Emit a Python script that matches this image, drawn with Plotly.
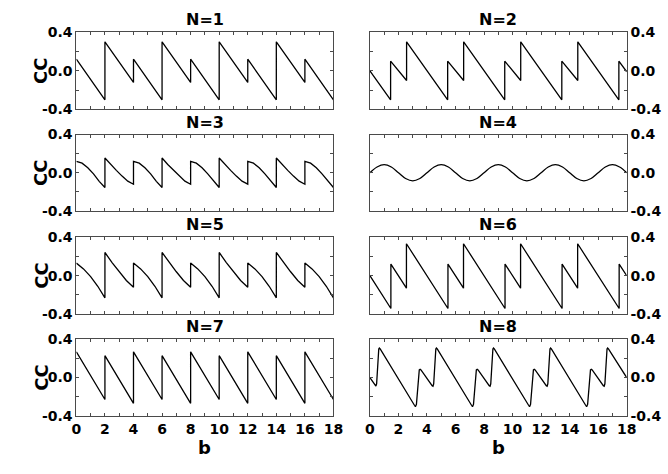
import plotly.graph_objects as go

# ---- data: CC versus b for N = 1 ... 8 ----
b1 = [0, 2, 2, 4, 4, 6, 6, 8, 8, 10, 10, 12, 12, 14, 14, 16, 16, 18]
cc1 = [0.12, -0.30, 0.30, -0.12, 0.12, -0.30, 0.30, -0.12, 0.12, -0.30,
       0.30, -0.12, 0.12, -0.30, 0.30, -0.12, 0.12, -0.30]

b2 = [0, 1.45, 1.45, 2.57, 2.57, 5.45, 5.45, 6.57, 6.57, 9.45, 9.45, 10.57,
      10.57, 13.45, 13.45, 14.57, 14.57, 17.45, 17.45, 18]
cc2 = [0.0, -0.30, 0.10, -0.10, 0.30, -0.30, 0.10, -0.10, 0.30, -0.30, 0.10,
       -0.10, 0.30, -0.30, 0.10, -0.10, 0.30, -0.30, 0.10, -0.01]

b3 = [0, 0.4, 0.8, 1.2, 1.6, 2, 2, 2.4, 2.8, 3.2, 3.6, 4,
      4, 4.4, 4.8, 5.2, 5.6, 6, 6, 6.4, 6.8, 7.2, 7.6, 8,
      8, 8.4, 8.8, 9.2, 9.6, 10, 10, 10.4, 10.8, 11.2, 11.6, 12,
      12, 12.4, 12.8, 13.2, 13.6, 14, 14, 14.4, 14.8, 15.2, 15.6, 16,
      16, 16.4, 16.8, 17.2, 17.6, 18]
cc3 = [0.12, 0.10, 0.052, -0.012, -0.09, -0.155, 0.155, 0.087, 0.025, -0.035, -0.088, -0.12,
       0.12, 0.10, 0.052, -0.012, -0.09, -0.155, 0.155, 0.087, 0.025, -0.035, -0.088, -0.12,
       0.12, 0.10, 0.052, -0.012, -0.09, -0.155, 0.155, 0.087, 0.025, -0.035, -0.088, -0.12,
       0.12, 0.10, 0.052, -0.012, -0.09, -0.155, 0.155, 0.087, 0.025, -0.035, -0.088, -0.12,
       0.12, 0.10, 0.052, -0.012, -0.09, -0.155]

b4 = [0, 0.5, 1, 1.5, 2, 2.5, 3, 3.5, 4, 4.5, 5, 5.5, 6, 6.5, 7, 7.5, 8, 8.5,
      9, 9.5, 10, 10.5, 11, 11.5, 12, 12.5, 13, 13.5, 14, 14.5, 15, 15.5,
      16, 16.5, 17, 17.5, 18]
cc4 = [0.0, 0.06, 0.085, 0.06, 0.0, -0.06, -0.085, -0.06,
       0.0, 0.06, 0.085, 0.06, 0.0, -0.06, -0.085, -0.06,
       0.0, 0.06, 0.085, 0.06, 0.0, -0.06, -0.085, -0.06,
       0.0, 0.06, 0.085, 0.06, 0.0, -0.06, -0.085, -0.06,
       0.0, 0.06, 0.085, 0.06, 0.0]

b5 = [0, 0.5, 1, 1.5, 2, 2, 2.5, 3, 3.5, 4,
      4, 4.5, 5, 5.5, 6, 6, 6.5, 7, 7.5, 8,
      8, 8.5, 9, 9.5, 10, 10, 10.5, 11, 11.5, 12,
      12, 12.5, 13, 13.5, 14, 14, 14.5, 15, 15.5, 16,
      16, 16.5, 17, 17.5, 18]
cc5 = [0.13, 0.07, -0.01, -0.11, -0.23, 0.24, 0.135, 0.04, -0.05, -0.12,
       0.13, 0.07, -0.01, -0.11, -0.23, 0.24, 0.135, 0.04, -0.05, -0.12,
       0.13, 0.07, -0.01, -0.11, -0.23, 0.24, 0.135, 0.04, -0.05, -0.12,
       0.13, 0.07, -0.01, -0.11, -0.23, 0.24, 0.135, 0.04, -0.05, -0.12,
       0.13, 0.07, -0.01, -0.11, -0.23]

b6 = [0, 1.47, 1.47, 2.56, 2.56, 5.47, 5.47, 6.56, 6.56, 9.47, 9.47, 10.56,
      10.56, 13.47, 13.47, 14.56, 14.56, 17.47, 17.47, 18]
cc6 = [0.0, -0.34, 0.12, -0.13, 0.33, -0.34, 0.12, -0.13, 0.33, -0.34, 0.12,
       -0.13, 0.33, -0.34, 0.12, -0.13, 0.33, -0.34, 0.12, 0.0]

b7 = [0, 2, 2, 4, 4, 6, 6, 8, 8, 10, 10, 12, 12, 14, 14, 16, 16, 18]
cc7 = [0.27, -0.23, 0.23, -0.27, 0.27, -0.23, 0.23, -0.27, 0.27, -0.23,
       0.23, -0.27, 0.27, -0.23, 0.23, -0.27, 0.27, -0.23]

b8 = [0, 0.2, 0.36, 0.42, 0.47, 0.52, 0.57, 0.62, 0.66, 0.72,
      3.12, 3.19, 3.26, 3.33, 3.40, 3.46, 3.52, 3.58,
      4.36, 4.42, 4.47, 4.52, 4.57, 4.62, 4.66, 4.72,
      7.12, 7.19, 7.26, 7.33, 7.40, 7.46, 7.52, 7.58,
      8.36, 8.42, 8.47, 8.52, 8.57, 8.62, 8.66, 8.72,
      11.12, 11.19, 11.26, 11.33, 11.40, 11.46, 11.52, 11.58,
      12.36, 12.42, 12.47, 12.52, 12.57, 12.62, 12.66, 12.72,
      15.12, 15.19, 15.26, 15.33, 15.40, 15.46, 15.52, 15.58,
      16.36, 16.42, 16.47, 16.52, 16.57, 16.62, 16.66, 16.72,
      18]
cc8 = [0.0, -0.045, -0.08, -0.09, -0.065, 0.10, 0.25, 0.30, 0.31, 0.30,
       -0.29, -0.305, -0.28, -0.12, 0.04, 0.08, 0.087, 0.08,
       -0.085, -0.09, -0.065, 0.10, 0.25, 0.30, 0.31, 0.30,
       -0.29, -0.305, -0.28, -0.12, 0.04, 0.08, 0.087, 0.08,
       -0.085, -0.09, -0.065, 0.10, 0.25, 0.30, 0.31, 0.30,
       -0.29, -0.305, -0.28, -0.12, 0.04, 0.08, 0.087, 0.08,
       -0.085, -0.09, -0.065, 0.10, 0.25, 0.30, 0.31, 0.30,
       -0.29, -0.305, -0.28, -0.12, 0.04, 0.08, 0.087, 0.08,
       -0.085, -0.09, -0.065, 0.10, 0.25, 0.30, 0.31, 0.30,
       0.0]

panel_titles = ["N=1", "N=2", "N=3", "N=4", "N=5", "N=6", "N=7", "N=8"]
series_b = [b1, b2, b3, b4, b5, b6, b7, b8]
series_cc = [cc1, cc2, cc3, cc4, cc5, cc6, cc7, cc8]
smooth = [False, False, False, True, False, False, False, False]

x_tickvals = list(range(19))
x_ticktext = [str(v) if v % 2 == 0 else "" for v in x_tickvals]
y_tickvals = [-0.4, -0.2, 0.0, 0.2, 0.4]
y_ticktext = ["-0.4", "", "0.0", "", "0.4"]

# ---- layout geometry (pixels) ----
W, H = 668, 474
col_px = [(73, 336), (373.3, 636)]
row_px = [(25, 105), (131, 210), (237, 317), (343, 422)]

FONT = "DejaVu Sans"
FRAME = "#4a4a4a"

fig = go.Figure()
layout = dict(
    width=W, height=H,
    margin=dict(l=0, r=0, t=0, b=0),
    paper_bgcolor="white", plot_bgcolor="white",
    showlegend=False,
    font=dict(family=FONT, color="black"),
)
annotations = []

for i in range(8):
    r, c = divmod(i, 2)
    xs = "" if i == 0 else str(i + 1)
    x0, x1 = col_px[c]
    top, bot = row_px[r]
    xdom = [x0 / W, x1 / W]
    ydom = [1 - bot / H, 1 - top / H]

    fig.add_trace(go.Scatter(
        x=series_b[i], y=series_cc[i], mode="lines",
        line=dict(color="black", width=1.3,
                  shape="spline" if smooth[i] else "linear"),
        xaxis="x" + xs, yaxis="y" + xs, hoverinfo="skip",
    ))

    layout["xaxis" + xs] = dict(
        domain=xdom, anchor="y" + xs, range=[0, 18],
        tickmode="array", tickvals=x_tickvals, ticktext=x_ticktext,
        showticklabels=(r == 3),
        ticks="inside", ticklen=3, tickwidth=1, tickcolor=FRAME,
        showline=True, linecolor=FRAME, linewidth=1, mirror="ticks",
        showgrid=False, zeroline=False,
        tickfont=dict(family=FONT, size=14, weight="bold", color="black"),
    )
    layout["yaxis" + xs] = dict(
        domain=ydom, anchor="x" + xs, range=[-0.4, 0.4],
        side="left" if c == 0 else "right",
        tickmode="array", tickvals=y_tickvals, ticktext=y_ticktext,
        ticks="inside", ticklen=3, tickwidth=1, tickcolor=FRAME,
        showline=True, linecolor=FRAME, linewidth=1, mirror="ticks",
        showgrid=False, zeroline=False,
        tickfont=dict(family=FONT, size=14, weight="bold", color="black"),
    )

    annotations.append(dict(
        text=panel_titles[i], xref="paper", yref="paper",
        x=(xdom[0] + xdom[1]) / 2, y=ydom[1], xanchor="center",
        yanchor="bottom", yshift=1, showarrow=False,
        font=dict(family=FONT, size=16, weight="bold", color="black"),
    ))
    if c == 0:
        annotations.append(dict(
            text="CC", xref="paper", yref="paper",
            x=37 / W, y=(ydom[0] + ydom[1]) / 2, xanchor="center",
            yanchor="middle", textangle=-90, showarrow=False,
            font=dict(family=FONT, size=18, weight="bold", color="black"),
        ))
    if r == 3:
        annotations.append(dict(
            text="b", xref="paper", yref="paper",
            x=(xdom[0] + xdom[1]) / 2, y=1 - 455 / H, xanchor="center",
            yanchor="middle", showarrow=False,
            font=dict(family=FONT, size=18, weight="bold", color="black"),
        ))

layout["annotations"] = annotations
fig.update_layout(**layout)
fig.write_html("out.html")
